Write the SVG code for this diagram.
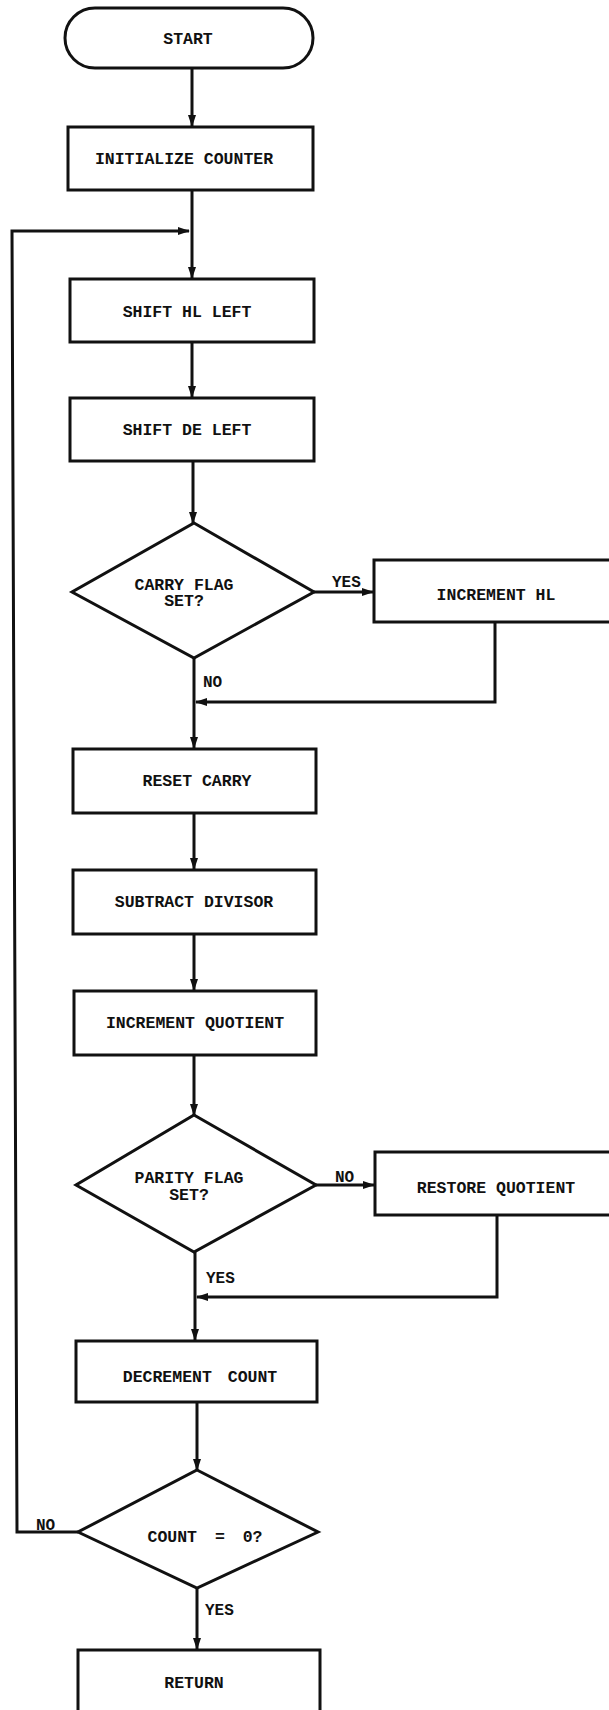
<svg xmlns="http://www.w3.org/2000/svg" width="609" height="1710" viewBox="0 0 609 1710">
<defs>
<marker id="arr" markerUnits="userSpaceOnUse" markerWidth="12" markerHeight="10" viewBox="0 0 12 10" refX="11" refY="5" orient="auto">
<path d="M0,1 L12,5 L0,9 z" fill="#111"/>
</marker>
<style>
.box{fill:#fff;stroke:#111;stroke-width:3}
.ln{fill:none;stroke:#111;stroke-width:3}
.t{font-family:"Liberation Mono","DejaVu Sans Mono",monospace;font-weight:bold;font-size:16.5px;fill:#111;text-anchor:middle}
.lb{font-family:"Liberation Mono","DejaVu Sans Mono",monospace;font-weight:bold;font-size:16px;fill:#111}
</style>
</defs>
<rect width="609" height="1710" fill="#fff"/>
<g id="connectors">
<line class="ln" x1="192" y1="68" x2="192" y2="126" marker-end="url(#arr)"/>
<line class="ln" x1="192" y1="190" x2="192" y2="278" marker-end="url(#arr)"/>
<path class="ln" d="M78,1532 L17,1532 L12,231 L189,231" marker-end="url(#arr)"/>
<line class="ln" x1="192" y1="342" x2="192" y2="397" marker-end="url(#arr)"/>
<line class="ln" x1="193" y1="461" x2="193" y2="523" marker-end="url(#arr)"/>
<line class="ln" x1="314" y1="592" x2="373" y2="592" marker-end="url(#arr)"/>
<path class="ln" d="M495,622 L495,702 L196,702" marker-end="url(#arr)"/>
<line class="ln" x1="194" y1="658" x2="194" y2="748" marker-end="url(#arr)"/>
<line class="ln" x1="194" y1="813" x2="194" y2="869" marker-end="url(#arr)"/>
<line class="ln" x1="194" y1="934" x2="194" y2="990" marker-end="url(#arr)"/>
<line class="ln" x1="194" y1="1055" x2="194" y2="1115" marker-end="url(#arr)"/>
<line class="ln" x1="316" y1="1185" x2="374" y2="1185" marker-end="url(#arr)"/>
<path class="ln" d="M497,1215 L497,1297 L197,1297" marker-end="url(#arr)"/>
<line class="ln" x1="195" y1="1252" x2="195" y2="1340" marker-end="url(#arr)"/>
<line class="ln" x1="197" y1="1402" x2="197" y2="1470" marker-end="url(#arr)"/>
<line class="ln" x1="197" y1="1588" x2="197" y2="1649" marker-end="url(#arr)"/>
</g>
<g id="labels">
<text class="lb" x="332" y="587">YES</text>
<text class="lb" x="203" y="687">NO</text>
<text class="lb" x="335" y="1182">NO</text>
<text class="lb" x="206" y="1283">YES</text>
<text class="lb" x="36" y="1530">NO</text>
<text class="lb" x="205" y="1615">YES</text>
</g>
<g id="start">
<rect class="box" x="65" y="8" width="248" height="60" rx="30"/>
<text class="t" x="188" y="44">START</text>
</g>
<g id="init">
<rect class="box" x="68" y="127" width="245" height="63"/>
<text class="t" x="184" y="164">INITIALIZE COUNTER</text>
</g>
<g id="shifthl">
<rect class="box" x="70" y="279" width="244" height="63"/>
<text class="t" x="187" y="317">SHIFT HL LEFT</text>
</g>
<g id="shiftde">
<rect class="box" x="70" y="398" width="244" height="63"/>
<text class="t" x="187" y="435">SHIFT DE LEFT</text>
</g>
<g id="carry">
<polygon class="box" points="194,523 314,592 194,658 72,592"/>
<text class="t" x="184" y="590">CARRY FLAG</text>
<text class="t" x="184" y="606">SET?</text>
</g>
<g id="inchl">
<rect class="box" x="374" y="560" width="250" height="62"/>
<text class="t" x="496" y="600">INCREMENT HL</text>
</g>
<g id="resetcarry">
<rect class="box" x="73" y="749" width="243" height="64"/>
<text class="t" x="197" y="786">RESET CARRY</text>
</g>
<g id="subtract">
<rect class="box" x="73" y="870" width="243" height="64"/>
<text class="t" x="194" y="907">SUBTRACT DIVISOR</text>
</g>
<g id="incq">
<rect class="box" x="74" y="991" width="242" height="64"/>
<text class="t" x="195" y="1028">INCREMENT QUOTIENT</text>
</g>
<g id="parity">
<polygon class="box" points="194,1115 316,1185 194,1252 76,1185"/>
<text class="t" x="189" y="1183">PARITY FLAG</text>
<text class="t" x="189" y="1200">SET?</text>
</g>
<g id="restore">
<rect class="box" x="375" y="1152" width="250" height="63"/>
<text class="t" x="496" y="1193">RESTORE QUOTIENT</text>
</g>
<g id="deccount">
<rect class="box" x="76" y="1341" width="241" height="61"/>
<text class="t" x="200" y="1382" word-spacing="6">DECREMENT COUNT</text>
</g>
<g id="countzero">
<polygon class="box" points="197,1470 318,1532 197,1588 78,1532"/>
<text class="t" x="205" y="1542" word-spacing="8">COUNT = 0?</text>
</g>
<g id="return">
<rect class="box" x="78" y="1650" width="242" height="80"/>
<text class="t" x="194" y="1688">RETURN</text>
</g>
</svg>
